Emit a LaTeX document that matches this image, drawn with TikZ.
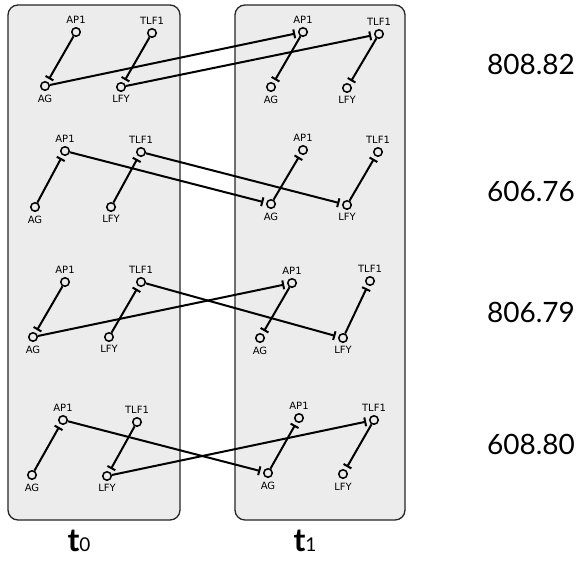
\documentclass[tikz,border=0pt]{standalone}
\usepackage{fontspec}
\setmainfont{DejaVu Sans}
\newfontfamily\numfont{Lato}
\usetikzlibrary{arrows.meta}
\definecolor{panelgray}{RGB}{236,236,236}
\tikzset{
  panel/.style={draw=black!85, line width=1.3pt, fill=panelgray, rounded corners=10pt},
  gene/.style={circle, draw=black, line width=1.5pt, minimum size=8.5pt, inner sep=0pt, fill=panelgray},
  up/.style={gene, label={[lbl]90:#1}},
  dn/.style={gene, label={[lbl]270:#1}},
  lbl/.style={font=\fontsize{10}{11}\selectfont, inner sep=2pt, label distance=1.5pt},
  inh/.style={line width=2pt, -{Bar[width=9pt,line width=2pt]}, shorten >=3pt},
  num/.style={font=\numfont\fontsize{28}{30}\selectfont, anchor=center},
}
\begin{document}
\begin{tikzpicture}[x=1pt,y=-1pt, label distance=1.5pt]
\useasboundingbox (0,0) rectangle (578,563);
\fill[white] (0,0) rectangle (578,563);
\draw[panel] (8,5) rectangle (180,520);
\draw[panel] (235,5) rectangle (405,520);
% Row 1
\node[up=AP1]  (L1ap)  at (76,32) {};
\node[up=TLF1] (L1tlf) at (152,33) {};
\node[dn=AG]   (L1ag)  at (45,86) {};
\node[dn=LFY]  (L1lfy) at (121,87) {};
\node[up=AP1]  (R1ap)  at (303,32) {};
\node[up=TLF1] (R1tlf) at (379,34) {};
\node[dn=AG]   (R1ag)  at (271,87) {};
\node[dn=LFY]  (R1lfy) at (347,88) {};
% Row 2
\node[up=AP1]  (L2ap)  at (65,151) {};
\node[up=TLF1] (L2tlf) at (141,152) {};
\node[dn=AG]   (L2ag)  at (35,207) {};
\node[dn=LFY]  (L2lfy) at (111,207) {};
\node[up=AP1]  (R2ap)  at (303,150) {};
\node[up=TLF1] (R2tlf) at (378,152) {};
\node[dn=AG]   (R2ag)  at (271,204) {};
\node[dn=LFY]  (R2lfy) at (347,205) {};
% Row 3
\node[up=AP1]  (L3ap)  at (65,282) {};
\node[up=TLF1] (L3tlf) at (141,282) {};
\node[dn=AG]   (L3ag)  at (33,337) {};
\node[dn=LFY]  (L3lfy) at (109,337) {};
\node[up=AP1]  (R3ap)  at (292,283) {};
\node[up=TLF1] (R3tlf) at (370,281) {};
\node[dn=AG]   (R3ag)  at (260,338) {};
\node[dn=LFY]  (R3lfy) at (343,338) {};
% Row 4
\node[up=AP1]  (L4ap)  at (63,420) {};
\node[up=TLF1] (L4tlf) at (137,422) {};
\node[dn=AG]   (L4ag)  at (32,475) {};
\node[dn=LFY]  (L4lfy) at (107,476) {};
\node[up=AP1]  (R4ap)  at (299,418) {};
\node[up=TLF1] (R4tlf) at (374,420) {};
\node[dn=AG]   (R4ag)  at (268,473) {};
\node[dn=LFY]  (R4lfy) at (343,474) {};
% Edges row 1
\draw[inh] (L1ap) -- (L1ag);
\draw[inh] (L1tlf) -- (L1lfy);
\draw[inh] (L1ag) -- (R1ap);
\draw[inh] (L1lfy) -- (R1tlf);
\draw[inh] (R1ap) -- (R1ag);
\draw[inh] (R1tlf) -- (R1lfy);
% Edges row 2
\draw[inh] (L2ag) -- (L2ap);
\draw[inh] (L2lfy) -- (L2tlf);
\draw[inh] (L2ap) -- (R2ag);
\draw[inh] (L2tlf) -- (R2lfy);
\draw[inh] (R2ag) -- (R2ap);
\draw[inh] (R2lfy) -- (R2tlf);
% Edges row 3
\draw[inh] (L3ap) -- (L3ag);
\draw[inh] (L3lfy) -- (L3tlf);
\draw[inh] (L3ag) -- (R3ap);
\draw[inh] (L3tlf) -- (R3lfy);
\draw[inh] (R3ap) -- (R3ag);
\draw[inh] (R3lfy) -- (R3tlf);
% Edges row 4
\draw[inh] (L4ag) -- (L4ap);
\draw[inh] (L4tlf) -- (L4lfy);
\draw[inh] (L4ap) -- (R4ag);
\draw[inh] (L4lfy) -- (R4tlf);
\draw[inh] (R4ag) -- (R4ap);
\draw[inh] (R4tlf) -- (R4lfy);
% scores
\node[num] (s1) at (531,64) {808.82};
\node[num] (s2) at (531,191) {606.76};
\node[num] (s3) at (531,312) {806.79};
\node[num] (s4) at (531,444) {608.80};
% time labels
\node[anchor=base, inner sep=0pt] (t0) at (79,551) {\numfont{\fontsize{32}{32}\selectfont\bfseries t}{\fontsize{19}{19}\selectfont 0}};
\node[anchor=base, inner sep=0pt] (t1) at (305,551) {\numfont{\fontsize{32}{32}\selectfont\bfseries t}{\fontsize{19}{19}\selectfont 1}};
\end{tikzpicture}
\end{document}
